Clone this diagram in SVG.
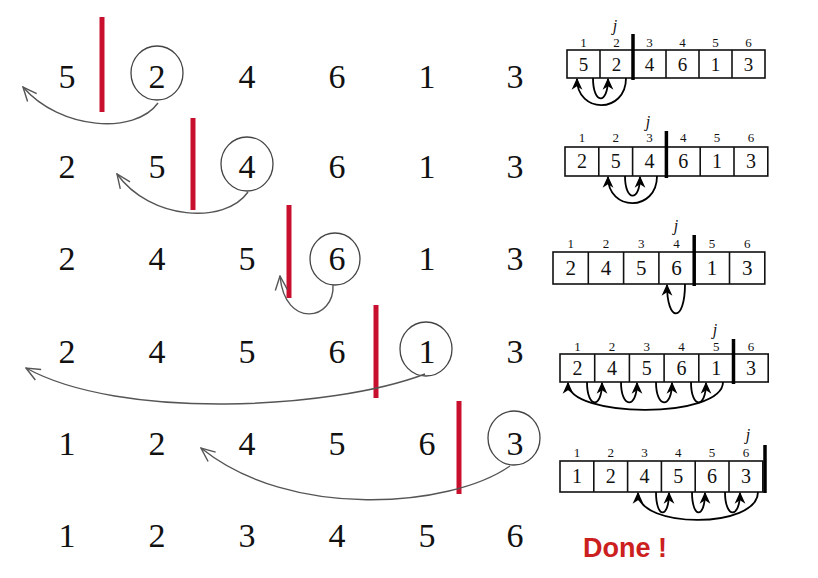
<svg xmlns="http://www.w3.org/2000/svg" width="818" height="578" viewBox="0 0 818 578">
<defs>
<style>
.d{font-family:"Liberation Serif","Times New Roman",serif;font-size:34px;fill:#111;text-anchor:middle}
.c{fill:none;stroke:#444;stroke-width:1.3}
.bar{stroke:#c8102e;stroke-width:5}
.arr{fill:none;stroke:#555;stroke-width:1.4;marker-end:url(#open)}
.cell{fill:#fff;stroke:#111;stroke-width:1.6}
.ln{stroke:#111;stroke-width:1.6}
.kb{stroke:#000;stroke-width:3.5}
.v{font-family:"Liberation Serif","Times New Roman",serif;font-size:20px;fill:#111;text-anchor:middle}
.i{font-family:"Liberation Serif","Times New Roman",serif;font-size:13px;fill:#111;text-anchor:middle}
.j{font-family:"Liberation Serif","Times New Roman",serif;font-size:16px;font-style:italic;fill:#111;text-anchor:middle}
.sa{fill:none;stroke:#000;stroke-width:1.8;marker-end:url(#solid)}
.done{font-family:"Liberation Sans",Arial,sans-serif;font-size:27px;font-weight:bold;fill:#cc2020}
</style>
<marker id="open" markerUnits="userSpaceOnUse" markerWidth="16" markerHeight="14" viewBox="0 0 16 14" refX="15" refY="7" orient="auto">
<path d="M1,1 L15,7 L1,13" fill="none" stroke="#555" stroke-width="1.4"/>
</marker>
<marker id="solid" markerUnits="userSpaceOnUse" markerWidth="12" markerHeight="12" viewBox="0 0 10 10" refX="9" refY="5" orient="auto">
<path d="M0,0.5 L10,5 L0,9.5 L3,5 z" fill="#000"/>
</marker>
</defs>
<rect width="818" height="578" fill="#fff"/>

<g id="row1">
<text class="d" x="67" y="88">5</text><text class="d" x="157" y="88">2</text><text class="d" x="247" y="88">4</text><text class="d" x="337" y="88">6</text><text class="d" x="427" y="88">1</text><text class="d" x="515" y="88">3</text>
<ellipse class="c" cx="157" cy="73" rx="26" ry="27"/>
<line class="bar" x1="102" y1="17" x2="102" y2="112"/>
</g>
<g id="row2">
<text class="d" x="67" y="178">2</text><text class="d" x="157" y="178">5</text><text class="d" x="247" y="178">4</text><text class="d" x="337" y="178">6</text><text class="d" x="427" y="178">1</text><text class="d" x="515" y="178">3</text>
<ellipse class="c" cx="247" cy="164" rx="26" ry="27"/>
<line class="bar" x1="193" y1="118" x2="193" y2="210"/>
</g>
<g id="row3">
<text class="d" x="67" y="270">2</text><text class="d" x="157" y="270">4</text><text class="d" x="247" y="270">5</text><text class="d" x="337" y="270">6</text><text class="d" x="427" y="270">1</text><text class="d" x="515" y="270">3</text>
<ellipse class="c" cx="335" cy="259" rx="25" ry="26"/>
<line class="bar" x1="289" y1="205" x2="289" y2="298"/>
</g>
<g id="row4">
<text class="d" x="67" y="363">2</text><text class="d" x="157" y="363">4</text><text class="d" x="247" y="363">5</text><text class="d" x="337" y="363">6</text><text class="d" x="427" y="363">1</text><text class="d" x="515" y="363">3</text>
<ellipse class="c" cx="426" cy="349" rx="26" ry="27"/>
<line class="bar" x1="376" y1="305" x2="376" y2="398"/>
</g>
<g id="row5">
<text class="d" x="67" y="455">1</text><text class="d" x="157" y="455">2</text><text class="d" x="247" y="455">4</text><text class="d" x="337" y="455">5</text><text class="d" x="427" y="455">6</text><text class="d" x="515" y="455">3</text>
<ellipse class="c" cx="514" cy="438" rx="26" ry="27"/>
<line class="bar" x1="459" y1="401" x2="459" y2="494"/>
</g>
<g id="row6">
<text class="d" x="67" y="547">1</text><text class="d" x="157" y="547">2</text><text class="d" x="247" y="547">3</text><text class="d" x="337" y="547">4</text><text class="d" x="427" y="547">5</text><text class="d" x="515" y="547">6</text>
</g>

<g id="connectors">
<path class="arr" d="M158,103 C135,135 60,130 23,87"/>
<path class="arr" d="M248,192 C225,225 150,220 117,174"/>
<path class="arr" d="M333,285 C335,320 285,330 280,276"/>
<path class="arr" d="M425,374 C330,410 120,420 26,368"/>
<path class="arr" d="M510,466 C450,508 290,520 201,448"/>
</g>

<g id="array1">
<text class="j" x="615" y="31">j</text>
<text class="i" x="583.5" y="47">1</text><text class="i" x="616.5" y="47">2</text><text class="i" x="649.5" y="47">3</text><text class="i" x="682.5" y="47">4</text><text class="i" x="715.5" y="47">5</text><text class="i" x="748.5" y="47">6</text>
<rect class="cell" x="567" y="50" width="198" height="28"/>
<line class="ln" x1="600" y1="50" x2="600" y2="78"/><line class="ln" x1="666" y1="50" x2="666" y2="78"/><line class="ln" x1="699" y1="50" x2="699" y2="78"/><line class="ln" x1="732" y1="50" x2="732" y2="78"/>
<line class="kb" x1="633" y1="34" x2="633" y2="80"/>
<text class="v" x="583.5" y="70.5" style="font-size:19px">5</text><text class="v" x="616.5" y="70.5" style="font-size:19px">2</text><text class="v" x="649.5" y="70.5" style="font-size:19px">4</text><text class="v" x="682.5" y="70.5" style="font-size:19px">6</text><text class="v" x="715.5" y="70.5" style="font-size:19px">1</text><text class="v" x="748.5" y="70.5" style="font-size:19px">3</text>
<path class="sa" d="M626,78 C626,114 577,114 577,79"/>
<path class="sa" d="M593,78 C593,105 608,105 608,79"/>
</g>

<g id="array2">
<text class="j" x="648" y="127">j</text>
<text class="i" x="581.9" y="142">1</text><text class="i" x="615.7" y="142">2</text><text class="i" x="649.5" y="142">3</text><text class="i" x="683.3" y="142">4</text><text class="i" x="717.1" y="142">5</text><text class="i" x="750.9" y="142">6</text>
<rect class="cell" x="565" y="147" width="202.8" height="29"/>
<line class="ln" x1="598.8" y1="147" x2="598.8" y2="176"/><line class="ln" x1="632.6" y1="147" x2="632.6" y2="176"/><line class="ln" x1="700.2" y1="147" x2="700.2" y2="176"/><line class="ln" x1="734" y1="147" x2="734" y2="176"/>
<line class="kb" x1="666.4" y1="131" x2="666.4" y2="178"/>
<text class="v" x="581.9" y="168">2</text><text class="v" x="615.7" y="168">5</text><text class="v" x="649.5" y="168">4</text><text class="v" x="683.3" y="168">6</text><text class="v" x="717.1" y="168">1</text><text class="v" x="750.9" y="168">3</text>
<path class="sa" d="M657,176 C657,212 608,212 608,177"/>
<path class="sa" d="M625,176 C625,202 640,202 640,177"/>
</g>

<g id="array3">
<text class="j" x="676" y="231">j</text>
<text class="i" x="570.7" y="248">1</text><text class="i" x="606" y="248">2</text><text class="i" x="641.3" y="248">3</text><text class="i" x="676.6" y="248">4</text><text class="i" x="711.9" y="248">5</text><text class="i" x="747.2" y="248">6</text>
<rect class="cell" x="553" y="252" width="211.8" height="32"/>
<line class="ln" x1="588.3" y1="252" x2="588.3" y2="284"/><line class="ln" x1="623.6" y1="252" x2="623.6" y2="284"/><line class="ln" x1="658.9" y1="252" x2="658.9" y2="284"/><line class="ln" x1="729.5" y1="252" x2="729.5" y2="284"/>
<line class="kb" x1="694.2" y1="235" x2="694.2" y2="286"/>
<text class="v" x="570.7" y="275" style="font-size:21px">2</text><text class="v" x="606" y="275" style="font-size:21px">4</text><text class="v" x="641.3" y="275" style="font-size:21px">5</text><text class="v" x="676.6" y="275" style="font-size:21px">6</text><text class="v" x="711.9" y="275" style="font-size:21px">1</text><text class="v" x="747.2" y="275" style="font-size:21px">3</text>
<path class="sa" d="M685,284 C685,323 667,323 667,285"/>
</g>

<g id="array4">
<text class="j" x="715" y="335">j</text>
<text class="i" x="577.4" y="351">1</text><text class="i" x="612.1" y="351">2</text><text class="i" x="646.8" y="351">3</text><text class="i" x="681.5" y="351">4</text><text class="i" x="716.2" y="351">5</text><text class="i" x="750.9" y="351">6</text>
<rect class="cell" x="560" y="354" width="208.2" height="28"/>
<line class="ln" x1="594.7" y1="354" x2="594.7" y2="382"/><line class="ln" x1="629.4" y1="354" x2="629.4" y2="382"/><line class="ln" x1="664.1" y1="354" x2="664.1" y2="382"/><line class="ln" x1="698.8" y1="354" x2="698.8" y2="382"/>
<line class="kb" x1="733.5" y1="339" x2="733.5" y2="384"/>
<text class="v" x="577.4" y="375">2</text><text class="v" x="612.1" y="375">4</text><text class="v" x="646.8" y="375">5</text><text class="v" x="681.5" y="375">6</text><text class="v" x="716.2" y="375">1</text><text class="v" x="750.9" y="375">3</text>
<path class="sa" d="M723,382 C723,419 568,419 568,383"/>
<path class="sa" d="M587,382 C587,409 602,409 602,383"/>
<path class="sa" d="M621,382 C621,409 637,409 637,383"/>
<path class="sa" d="M656,382 C656,409 672,409 672,383"/>
<path class="sa" d="M691,382 C691,409 706,409 706,383"/>
</g>

<g id="array5">
<text class="j" x="748" y="440">j</text>
<text class="i" x="576.9" y="457">1</text><text class="i" x="610.7" y="457">2</text><text class="i" x="644.5" y="457">3</text><text class="i" x="678.3" y="457">4</text><text class="i" x="712.1" y="457">5</text><text class="i" x="745.9" y="457">6</text>
<rect class="cell" x="560" y="461" width="202.8" height="31"/>
<line class="ln" x1="593.8" y1="461" x2="593.8" y2="492"/><line class="ln" x1="627.6" y1="461" x2="627.6" y2="492"/><line class="ln" x1="661.4" y1="461" x2="661.4" y2="492"/><line class="ln" x1="695.2" y1="461" x2="695.2" y2="492"/><line class="ln" x1="729" y1="461" x2="729" y2="492"/>
<line class="kb" x1="765" y1="445" x2="765" y2="493"/>
<text class="v" x="576.9" y="483">1</text><text class="v" x="610.7" y="483">2</text><text class="v" x="644.5" y="483">4</text><text class="v" x="678.3" y="483">5</text><text class="v" x="712.1" y="483">6</text><text class="v" x="745.9" y="483">3</text>
<path class="sa" d="M758,492 C758,529 638,529 638,493"/>
<path class="sa" d="M656,492 C656,519 669,519 669,493"/>
<path class="sa" d="M692,492 C692,519 705,519 705,493"/>
<path class="sa" d="M725,492 C725,519 740,519 740,493"/>
</g>

<text id="done" class="done" x="583" y="557">Done !</text>
</svg>
